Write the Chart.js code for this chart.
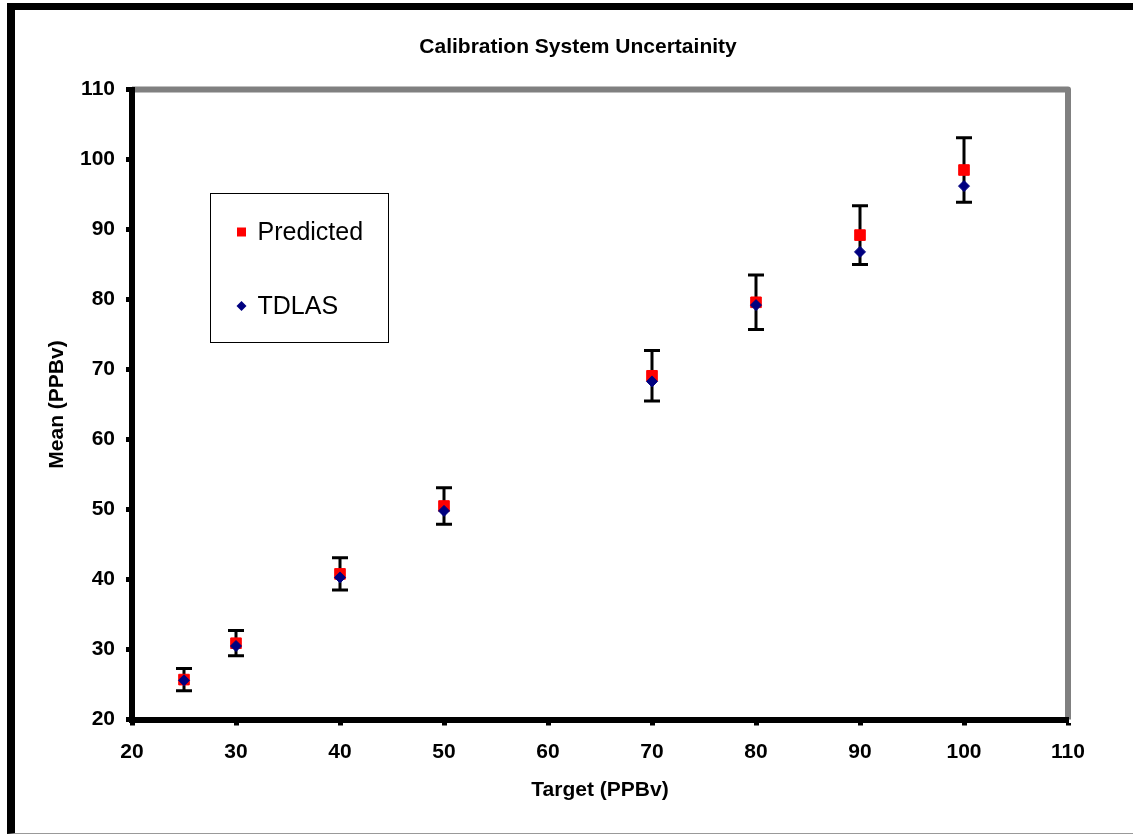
<!DOCTYPE html>
<html>
<head>
<meta charset="utf-8">
<script src="https://cdn.jsdelivr.net/npm/chart.js@4.4.0/dist/chart.umd.min.js"></script>
<style>
  html, body { margin: 0; padding: 0; background: #fff; width: 1133px; height: 836px; overflow: hidden; }
  #frame { position: absolute; left: 7px; top: 3px; width: 1140px; height: 823px;
           border-left: 8px solid #000; border-top: 7px solid #000; border-bottom: 1px solid #999; }
  #c { position: absolute; left: 0; top: 0; }
</style>
</head>
<body>
<div id="frame"></div>
<canvas id="c" width="1133" height="836"></canvas>
<script>
// ---- data ----
const chartTitle = 'Calibration System Uncertainity';
const xTitle = 'Target (PPBv)';
const yTitle = 'Mean (PPBv)';
const targets = [25, 30, 40, 50, 70, 80, 90, 100];
const predicted = [25.7, 30.9, 40.8, 50.5, 69.1, 79.6, 89.2, 98.5];
const tdlas = [25.6, 30.5, 40.3, 49.8, 68.3, 79.2, 86.8, 96.2];
const uncertainty = [1.6, 1.8, 2.3, 2.6, 3.6, 3.9, 4.2, 4.6];
const xTicks = [20, 30, 40, 50, 60, 70, 80, 90, 100, 110];
const yTicks = [20, 30, 40, 50, 60, 70, 80, 90, 100, 110];
const seriesNames = ['Predicted', 'TDLAS'];

const FONT = "'Liberation Sans', Arial, Helvetica, sans-serif";

const plotFrame = {
  id: 'plotFrame',
  beforeDraw(chart) {
    const {ctx, chartArea: a} = chart;
    ctx.save();
    ctx.strokeStyle = '#808080';
    ctx.lineWidth = 6;
    ctx.lineJoin = 'round';
    ctx.beginPath();
    ctx.moveTo(a.left, a.top);
    ctx.lineTo(a.right, a.top);
    ctx.lineTo(a.right, a.bottom);
    ctx.stroke();
    ctx.restore();
  }
};

const errorBars = {
  id: 'errorBars',
  beforeDatasetsDraw(chart) {
    const {ctx, scales: {x, y}} = chart;
    ctx.save();
    ctx.strokeStyle = '#000';
    ctx.lineWidth = 3;
    targets.forEach((t, i) => {
      const px = x.getPixelForValue(t);
      const top = y.getPixelForValue(predicted[i] + uncertainty[i]);
      const bot = y.getPixelForValue(predicted[i] - uncertainty[i]);
      ctx.beginPath();
      ctx.moveTo(px, top); ctx.lineTo(px, bot);
      ctx.moveTo(px - 8, top); ctx.lineTo(px + 8, top);
      ctx.moveTo(px - 8, bot); ctx.lineTo(px + 8, bot);
      ctx.stroke();
    });
    ctx.restore();
  }
};

const boxLegend = {
  id: 'boxLegend',
  afterDraw(chart) {
    const {ctx, chartArea: a} = chart;
    const bx = Math.round(a.left + 78) + 0.5, by = Math.round(a.top + 103) + 0.5;
    const bw = 178, bh = 149;
    ctx.save();
    ctx.fillStyle = '#fff';
    ctx.fillRect(bx, by, bw, bh);
    ctx.strokeStyle = '#000';
    ctx.lineWidth = 1;
    ctx.strokeRect(bx, by, bw, bh);
    ctx.font = '25px ' + FONT;
    ctx.textBaseline = 'middle';
    ctx.textAlign = 'left';
    chart.data.datasets.slice().sort((p, q) => seriesNames.indexOf(p.label) - seriesNames.indexOf(q.label))
      .forEach((ds, i) => {
        const cx = bx + 31, cy = by + 38.5 + i * 74;
        ctx.fillStyle = ds.backgroundColor;
        ctx.beginPath();
        if (ds.pointStyle === 'rect') {
          ctx.rect(cx - 4.5, cy - 4.5, 9, 9);
        } else {
          ctx.moveTo(cx - 5, cy); ctx.lineTo(cx, cy - 5);
          ctx.lineTo(cx + 5, cy); ctx.lineTo(cx, cy + 5);
          ctx.closePath();
        }
        ctx.fill();
        ctx.fillStyle = '#000';
        ctx.fillText(ds.label, bx + 47, cy + 1);
      });
    ctx.restore();
  }
};

new Chart(document.getElementById('c'), {
  type: 'scatter',
  data: {
    datasets: [
      {
        label: seriesNames[0],
        data: targets.map((t, i) => ({x: t, y: predicted[i]})),
        pointStyle: 'rect',
        pointRadius: 7.5,
        borderWidth: 1,
        backgroundColor: '#FF0000',
        borderColor: '#FF0000',
        order: 1
      },
      {
        label: seriesNames[1],
        data: targets.map((t, i) => ({x: t, y: tdlas[i]})),
        pointStyle: 'rectRot',
        pointRadius: 5.5,
        borderWidth: 1,
        backgroundColor: '#000080',
        borderColor: '#000080',
        order: 0
      }
    ]
  },
  options: {
    responsive: false,
    animation: false,
    events: [],
    layout: { padding: { left: 0, right: -23, top: 0, bottom: 0 } },
    plugins: {
      legend: { display: false },
      tooltip: { enabled: false },
      title: {
        display: true,
        text: chartTitle,
        color: '#000',
        font: { family: FONT, size: 21, weight: 'bold' },
        padding: { top: 34.4, bottom: 29.9 }
      }
    },
    scales: {
      x: {
        type: 'linear',
        min: xTicks[0],
        max: xTicks[xTicks.length - 1],
        afterBuildTicks(s) { s.ticks = xTicks.map(v => ({value: v})); },
        afterFit(s) { s.height = 116.5; s.paddingLeft = 0; s.paddingRight = 0; },
        border: { color: '#000', width: 6 },
        grid: { drawOnChartArea: false, drawTicks: true, tickLength: 6, tickWidth: 5, tickColor: '#000' },
        ticks: { color: '#000', padding: 13.9, maxRotation: 0, autoSkip: false,
                 font: { family: FONT, size: 21, weight: 'bold' } },
        title: { display: true, text: xTitle, color: '#000',
                 font: { family: FONT, size: 21, weight: 'bold' }, padding: { top: 0, bottom: 33.4 } }
      },
      y: {
        type: 'linear',
        position: 'left',
        min: yTicks[0],
        max: yTicks[yTicks.length - 1],
        afterBuildTicks(s) { s.ticks = yTicks.map(v => ({value: v})); },
        afterFit(s) { s.width = 132; s.paddingTop = 0; s.paddingBottom = 0; },
        border: { color: '#000', width: 6 },
        grid: { drawOnChartArea: false, drawTicks: true, tickLength: 6, tickWidth: 5, tickColor: '#000' },
        ticks: { color: '#000', padding: 11, autoSkip: false,
                 font: { family: FONT, size: 21, weight: 'bold' } },
        title: { display: true, text: yTitle, color: '#000',
                 font: { family: FONT, size: 21, weight: 'bold' }, padding: { top: 44.4, bottom: 0 } }
      },
      yRightSpace: {
        type: 'linear',
        position: 'right',
        display: true,
        min: yTicks[0],
        max: yTicks[yTicks.length - 1],
        afterFit(s) { s.width = 88; s.paddingTop = 0; s.paddingBottom = 0; },
        border: { display: false },
        grid: { display: false, drawTicks: false },
        ticks: { display: false },
        title: { display: false }
      }
    }
  },
  plugins: [plotFrame, errorBars, boxLegend]
});
</script>
</body>
</html>
